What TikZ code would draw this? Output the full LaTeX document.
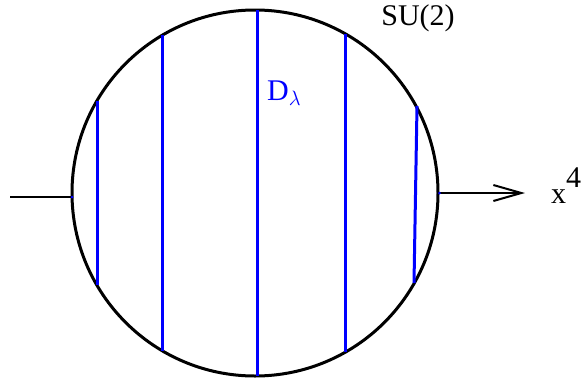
\documentclass[tikz,border=0pt]{standalone}
\usepackage{fontspec}
\setmainfont{Liberation Serif}
\usetikzlibrary{arrows.meta, calc}
\tikzset{
    ball/.style={draw=black, line width=3pt, circle, minimum size=366pt, inner sep=0pt},
    chord/.style={blue, line width=3pt},
    axis/.style={black, line width=2pt},
    tag/.style={font=\fontsize{30}{36}\selectfont, inner sep=0pt}
}

\begin{document}
\begin{tikzpicture}[x=1pt, y=-1pt]
        \useasboundingbox (0,0) rectangle (581,381);
        \node [ball] (ball) at (255,193) {};
        % chords of the disc
        \draw [chord] ($(ball.center)+(-158,-92)$) -- ($(ball.center)+(-158,92)$);
        \draw [chord] ($(ball.center)+(-93,-158)$) -- ($(ball.center)+(-93,158)$);
        \draw [chord] ($(ball.center)+(2,-183)$) -- ($(ball.center)+(2,183)$);
        \draw [chord] ($(ball.center)+(90,-159)$) -- ($(ball.center)+(90,159)$);
        \draw [chord] ($(ball.center)+(162,-87)$) -- ($(ball.center)+(159,90)$);
        \coordinate (start) at (10,197);
        \coordinate (end) at (525,193);
        \draw [axis] (start) -- ($(ball.center)+(-183,4)$);
        \draw [axis, -{Straight Barb[length=28pt, width=16pt]}] (ball.east) -- (end);
        \fill [blue] ($(ball.center)+(-183,4)$) circle (1.5pt);
        \fill [blue] (ball.east) circle (1.5pt);
        \node [tag, anchor=base] (group) at (418,25) {SU(2)};
        \node [tag, blue, anchor=base west] (dlabel) at (267,100) {D$_{\lambda}$};
        \node [tag, anchor=base west] (coord) at (551,203) {x\raisebox{16pt}{4}};
    \end{tikzpicture}
\end{document}
